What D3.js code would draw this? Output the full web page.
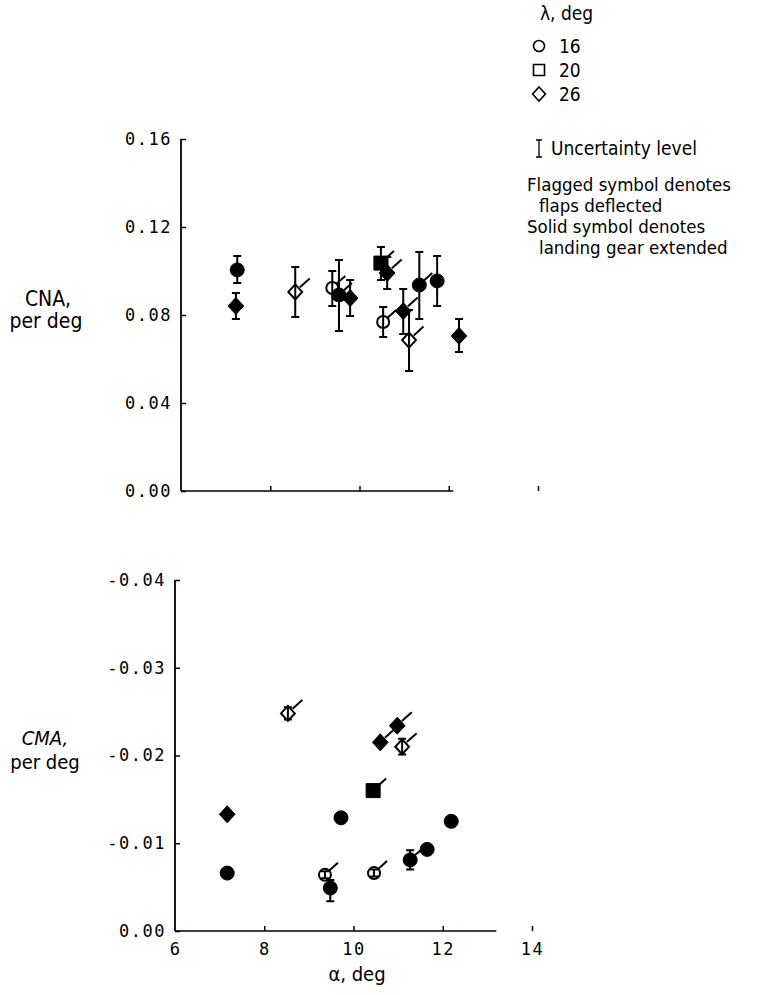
<!DOCTYPE html>
<html lang="en">
<head>
<meta charset="UTF-8">
<title>CNA and CMA versus alpha</title>
<script src="https://d3js.org/d3.v7.min.js"></script>
<style>
  body { margin: 0; background: #fff; }
  .lbl { font-family: "Liberation Sans Narrow", "DejaVu Sans Condensed", "Arial Narrow", sans-serif; fill: #000; }
  .tick text { font-family: "DejaVu Sans Mono", monospace; fill: #000; font-size: 17px; letter-spacing: 1.5px; }
</style>
</head>
<body>
<script>
// ---- data ----
const xTicks = [6, 8, 10, 12, 14];
const cnaTicks = [0, 0.04, 0.08, 0.12, 0.16];
const cmaTicks = [0, -0.01, -0.02, -0.03, -0.04];

// upper panel, CNA
const cnaAlpha = [7.26, 7.23, 8.56, 9.39, 9.54, 9.79, 10.48, 10.62, 10.53, 10.98, 11.11, 11.34, 11.74, 12.23];
const cnaValue = [0.1005, 0.0841, 0.0905, 0.0923, 0.0891, 0.0877, 0.1036, 0.0991, 0.0768, 0.0818, 0.0686, 0.0936, 0.0955, 0.0705];
const cnaLow   = [0.0945, 0.0782, 0.0791, 0.0841, 0.0727, 0.0795, 0.0959, 0.0918, 0.0700, 0.0714, 0.0545, 0.0782, 0.0841, 0.0632];
const cnaHigh  = [0.1068, 0.0900, 0.1018, 0.1000, 0.1050, 0.0959, 0.1109, 0.1064, 0.0836, 0.0918, 0.0823, 0.1086, 0.1068, 0.0782];
const cnaShape = ["circle", "diamond", "diamond", "circle", "circle", "diamond", "square", "diamond", "circle", "diamond", "diamond", "circle", "circle", "diamond"];
const cnaSolid = [1, 1, 0, 0, 1, 1, 1, 1, 0, 1, 0, 1, 1, 1];
const cnaFlag  = [0, 0, 1, 1, 1, 0, 1, 1, 1, 1, 1, 1, 0, 0];

// lower panel, CMA
const cmaAlpha = [7.17, 7.17, 8.53, 9.72, 10.44, 10.60, 10.98, 11.09, 12.19, 11.65, 11.27, 9.36, 9.48, 10.46];
const cmaValue = [-0.0133, -0.0066, -0.0248, -0.0129, -0.0160, -0.0215, -0.0234, -0.0210, -0.0125, -0.0093, -0.0081, -0.0064, -0.0049, -0.0066];
const cmaLow   = [null, null, -0.0241, null, null, null, null, -0.0201, null, null, -0.0070, -0.0060, -0.0034, -0.0062];
const cmaHigh  = [null, null, -0.0255, null, null, null, null, -0.0219, null, null, -0.0092, -0.0068, -0.0058, -0.0070];
const cmaShape = ["diamond", "circle", "diamond", "circle", "square", "diamond", "diamond", "diamond", "circle", "circle", "circle", "circle", "circle", "circle"];
const cmaSolid = [1, 1, 0, 1, 1, 1, 1, 0, 1, 1, 1, 0, 1, 0];
const cmaFlag  = [0, 0, 1, 0, 1, 1, 1, 1, 0, 0, 1, 1, 0, 1];

const lambdaLabels = ["16", "20", "26"];
const lambdaShapes = ["circle", "square", "diamond"];

// ---- drawing ----
const svg = d3.select("body").append("svg")
    .attr("width", 771)
    .attr("height", 995);

// symbol half-sizes in px
const half = { circle: 7, square: 7, diamond: 8.5 };

const shapeTypes = {
    circle: { draw(ctx, s) { ctx.arc(0, 0, s, 0, 2 * Math.PI); } },
    square: { draw(ctx, s) { ctx.rect(-s, -s, 2 * s, 2 * s); } },
    diamond: { draw(ctx, s) { ctx.moveTo(0, -s); ctx.lineTo(s * 0.92, 0); ctx.lineTo(0, s); ctx.lineTo(-s * 0.92, 0); ctx.closePath(); } }
};

function symbolPath(shape, solid) {
    let s = half[shape];
    if (!solid) s -= 1;
    return d3.symbol().type(shapeTypes[shape]).size(s)();
}

function rows(alpha, value, low, high, shape, solid, flag) {
    return alpha.map((a, i) => ({
        a: a, v: value[i], lo: low[i], hi: high[i],
        shape: shape[i], solid: !!solid[i], flag: !!flag[i]
    }));
}

function drawPoints(g, data, x, y) {
    // error bars
    const eb = data.filter(d => d.lo != null);
    g.selectAll(".eb").data(eb).enter().append("path")
        .attr("class", "eb")
        .attr("d", d => {
            const cx = x(d.a), ya = y(d.lo), yb = y(d.hi);
            return `M${cx},${ya}V${yb}M${cx - 4},${ya}H${cx + 4}M${cx - 4},${yb}H${cx + 4}`;
        })
        .attr("stroke", "#000")
        .attr("stroke-width", 2)
        .attr("fill", "none");

    // flags
    g.selectAll(".flag").data(data.filter(d => d.flag)).enter().append("line")
        .attr("class", "flag")
        .attr("x1", d => x(d.a) + half[d.shape] * 0.55)
        .attr("y1", d => y(d.v) - half[d.shape] * 0.55)
        .attr("x2", d => x(d.a) + half[d.shape] + 6)
        .attr("y2", d => y(d.v) - half[d.shape] - 5)
        .attr("stroke", "#000")
        .attr("stroke-width", 2);

    // symbols
    g.selectAll(".sym").data(data).enter().append("path")
        .attr("class", "sym")
        .attr("transform", d => `translate(${x(d.a)},${y(d.v)})`)
        .attr("d", d => symbolPath(d.shape, d.solid))
        .attr("fill", d => d.solid ? "#000" : "none")
        .attr("stroke", "#000")
        .attr("stroke-width", d => d.solid ? 1 : 2);
}

function styleAxis(sel) {
    sel.select(".domain").remove();
    sel.selectAll(".tick line").attr("stroke", "#000").attr("stroke-width", 1.5);
}

// ---------- upper panel ----------
const xA = d3.scaleLinear().domain([6, 14]).range([181, 538]);
const yA = d3.scaleLinear().domain([0, 0.16]).range([491, 139]);
const upper = svg.append("g");

upper.append("line")
    .attr("x1", xA(6)).attr("x2", xA(6))
    .attr("y1", yA(0)).attr("y2", yA(0.16))
    .attr("stroke", "#000").attr("stroke-width", 1.8);
upper.append("line")
    .attr("x1", xA(6)).attr("x2", xA(12.1))
    .attr("y1", yA(0)).attr("y2", yA(0))
    .attr("stroke", "#000").attr("stroke-width", 1.5);

upper.append("g")
    .attr("transform", `translate(${xA(6)},0)`)
    .call(d3.axisLeft(yA).tickValues(cnaTicks).tickSizeInner(-5).tickSizeOuter(0).tickPadding(9).tickFormat(d3.format(".2f")))
    .call(styleAxis);

upper.append("g")
    .attr("transform", `translate(0,${yA(0)})`)
    .call(d3.axisBottom(xA).tickValues(xTicks.slice(1)).tickSizeInner(-5).tickSizeOuter(0).tickFormat(""))
    .call(styleAxis);

drawPoints(upper, rows(cnaAlpha, cnaValue, cnaLow, cnaHigh, cnaShape, cnaSolid, cnaFlag), xA, yA);

upper.append("text").attr("class", "lbl").attr("x", 48).attr("y", 306)
    .attr("text-anchor", "middle").style("font-size", "21px").text("CNA,");
upper.append("text").attr("class", "lbl").attr("x", 46).attr("y", 328)
    .attr("text-anchor", "middle").style("font-size", "21px").text("per deg");

// ---------- lower panel ----------
const xB = d3.scaleLinear().domain([6, 14]).range([175, 532]);
const yB = d3.scaleLinear().domain([0, -0.04]).range([931, 580]);
const lower = svg.append("g");

lower.append("line")
    .attr("x1", xB(6)).attr("x2", xB(6))
    .attr("y1", yB(0)).attr("y2", yB(-0.04))
    .attr("stroke", "#000").attr("stroke-width", 1.8);
lower.append("line")
    .attr("x1", xB(6)).attr("x2", xB(13.2))
    .attr("y1", yB(0)).attr("y2", yB(0))
    .attr("stroke", "#000").attr("stroke-width", 1.5);

lower.append("g")
    .attr("transform", `translate(${xB(6)},0)`)
    .call(d3.axisLeft(yB).tickValues(cmaTicks).tickSizeInner(-5).tickSizeOuter(0).tickPadding(9)
        .tickFormat(d => d === 0 ? "0.00" : d3.format(".2f")(d).replace("−", "-")))
    .call(styleAxis);

lower.append("g")
    .attr("transform", `translate(0,${yB(0)})`)
    .call(d3.axisBottom(xB).tickValues(xTicks).tickSizeInner(-5).tickSizeOuter(0).tickPadding(12))
    .call(styleAxis)
    .call(g => g.selectAll(".tick").filter(d => d === 6).select("line").remove());

drawPoints(lower, rows(cmaAlpha, cmaValue, cmaLow, cmaHigh, cmaShape, cmaSolid, cmaFlag), xB, yB);

lower.append("text").attr("class", "lbl").attr("x", 45).attr("y", 745)
    .attr("text-anchor", "middle").style("font-size", "20px").style("font-style", "italic").text("CMA,");
lower.append("text").attr("class", "lbl").attr("x", 45).attr("y", 769)
    .attr("text-anchor", "middle").style("font-size", "20px").text("per deg");
lower.append("text").attr("class", "lbl").attr("x", 357).attr("y", 981)
    .attr("text-anchor", "middle").style("font-size", "20px").text("α, deg");

// ---------- legend ----------
const leg = svg.append("g");
leg.append("text").attr("class", "lbl").attr("x", 540).attr("y", 20)
    .style("font-size", "19px").text("λ, deg");
const legY = d3.scalePoint().domain(lambdaLabels).range([46, 94]);
lambdaLabels.forEach((lab, i) => {
    leg.append("path")
        .attr("transform", `translate(539,${legY(lab)})`)
        .attr("d", d3.symbol().type(shapeTypes[lambdaShapes[i]]).size(lambdaShapes[i] === "diamond" ? 7 : 5.5)())
        .attr("fill", "none").attr("stroke", "#000").attr("stroke-width", 1.6);
    leg.append("text").attr("class", "lbl").attr("x", 559).attr("y", legY(lab) + 7)
        .style("font-size", "19px").text(lab);
});
leg.append("path")
    .attr("d", "M539,140V157M536,140H542M536,157H542")
    .attr("stroke", "#000").attr("stroke-width", 1.3).attr("fill", "none");
leg.append("text").attr("class", "lbl").attr("x", 551).attr("y", 155)
    .style("font-size", "19px").text("Uncertainty level");

const notes = [["Flagged symbol denotes", 527], ["flaps deflected", 539], ["Solid symbol denotes", 527], ["landing gear extended", 539]];
notes.forEach((n, i) => {
    leg.append("text").attr("class", "lbl").attr("x", n[1]).attr("y", 191 + i * 21)
        .style("font-size", "18.5px").text(n[0]);
});
</script>
</body>
</html>
